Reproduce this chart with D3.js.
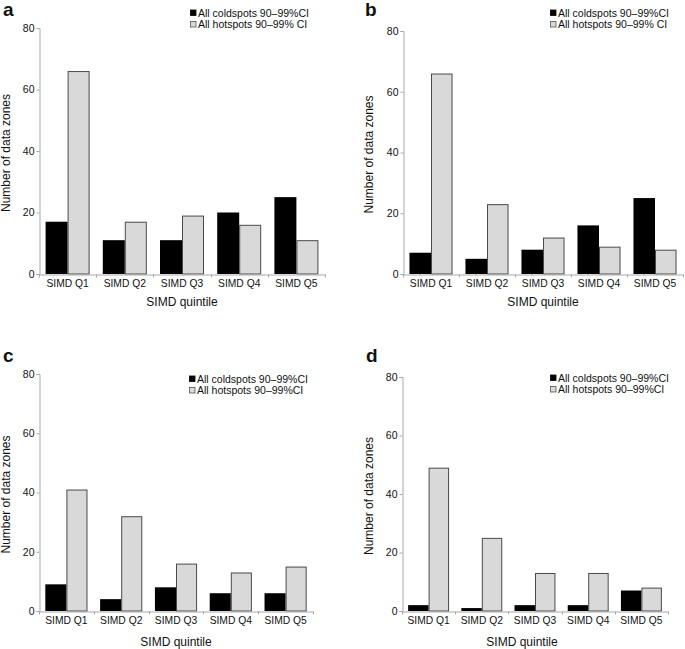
<!DOCTYPE html>
<html>
<head>
<meta charset="utf-8">
<script src="https://cdn.jsdelivr.net/npm/d3@7"></script>
<style>
  body { margin: 0; background: #fff; }
  svg text { font-family: "Liberation Sans", Arial, Helvetica, sans-serif; fill: #111; }
</style>
</head>
<body>
<svg id="chart" width="685" height="649"></svg>
<script>
/* Data: counts of data zones per SIMD quintile */

var categories = ["SIMD Q1", "SIMD Q2", "SIMD Q3", "SIMD Q4", "SIMD Q5"];
var yTicks = [0, 20, 40, 60, 80];

var coldA = [17, 11, 11, 20, 25];
var hotA  = [66, 17, 19, 16, 11];
var coldB = [7, 5, 8, 16, 25];
var hotB  = [66, 23, 12, 9, 8];
var coldC = [9, 4, 8, 6, 6];
var hotC  = [41, 32, 16, 13, 15];
var coldD = [2, 1, 2, 2, 7];
var hotD  = [49, 25, 13, 13, 8];

var coldLabel = "All coldspots 90\u201399%CI";
var hotLabelSpaced = "All hotspots 90\u201399% CI";
var hotLabel = "All hotspots 90\u201399%CI";

// Panel boxes (plot area in page pixels) and where the extras go.
var panels = [
	{ letter: "a", cold: coldA, hot: hotA, hotText: hotLabelSpaced,
		left: 39, right: 325, top: 28, bottom: 274,
		letterX: 3, letterY: 16, legendX: 190, legendY: 13, titleX: 182, titleY: 306, yTitleX: 10 },
	{ letter: "b", cold: coldB, hot: hotB, hotText: hotLabelSpaced,
		left: 403, right: 683, top: 31, bottom: 274,
		letterX: 365, letterY: 16, legendX: 550, legendY: 13, titleX: 543, titleY: 306, yTitleX: 373 },
	{ letter: "c", cold: coldC, hot: hotC, hotText: hotLabel,
		left: 39, right: 313, top: 374, bottom: 611,
		letterX: 3, letterY: 362, legendX: 189, legendY: 379, titleX: 176, titleY: 646, yTitleX: 10 },
	{ letter: "d", cold: coldD, hot: hotD, hotText: hotLabel,
		left: 402, right: 668, top: 377, bottom: 611,
		letterX: 366, letterY: 362, legendX: 550, legendY: 378, titleX: 522, titleY: 646, yTitleX: 373 }
];

var axisGrey = "#a8a8a8";
var hotFill = "#d9d9d9";
var hotStroke = "#4a4a4a";

var svg = d3.select("#chart");

function drawPanel(p) {
	var g = svg.append("g");

	var x0 = d3.scaleBand().domain(categories).range([p.left, p.right]);
	var x1 = d3.scaleBand().domain(["cold", "hot"])
		.range([0, x0.bandwidth()]).paddingOuter(0.3);
	var y = d3.scaleLinear().domain([0, 80]).range([p.bottom, p.top]);

	// Bars: black coldspots first, then grey hotspots.
	var groups = g.selectAll("g.cat").data(categories).enter().append("g")
		.attr("transform", function (c) { return "translate(" + x0(c) + ",0)"; });

	groups.append("rect")
		.attr("x", x1("cold"))
		.attr("y", function (c, i) { return y(p.cold[i]); })
		.attr("width", x1.bandwidth())
		.attr("height", function (c, i) { return y(0) - y(p.cold[i]); })
		.attr("fill", "#000");

	groups.append("rect")
		.attr("x", x1("hot") + 0.5)
		.attr("y", function (c, i) { return y(p.hot[i]) + 0.5; })
		.attr("width", x1.bandwidth() - 1)
		.attr("height", function (c, i) { return y(0) - y(p.hot[i]) - 0.5; })
		.attr("fill", hotFill)
		.attr("stroke", hotStroke)
		.attr("stroke-width", 1);

	// Y axis
	var yAxis = g.append("g")
		.attr("transform", "translate(" + (p.left + 0.5) + ",0)")
		.call(d3.axisLeft(y).tickValues(yTicks).tickSize(3).tickPadding(2));
	yAxis.select(".domain").attr("stroke", axisGrey);
	yAxis.selectAll(".tick line").attr("stroke", axisGrey);
	yAxis.selectAll(".tick text").attr("font-size", 10.5)
		.attr("font-family", "Liberation Sans, Arial, sans-serif").attr("fill", "#222");

	// X axis: line with small ticks between categories, labels centred.
	var xAxis = g.append("g")
		.attr("transform", "translate(0," + (p.bottom + 0.5) + ")")
		.call(d3.axisBottom(x0).tickSize(0).tickPadding(5).tickSizeOuter(0));
	xAxis.select(".domain").attr("stroke", axisGrey);
	xAxis.selectAll(".tick text").attr("font-size", 10.3)
		.attr("font-family", "Liberation Sans, Arial, sans-serif").attr("fill", "#222");
	var bounds = categories.map(function (c) { return x0(c); }).concat([p.right]);
	xAxis.selectAll("line.sep").data(bounds).enter().append("line")
		.attr("x1", function (d) { return Math.round(d) + 0.5; })
		.attr("x2", function (d) { return Math.round(d) + 0.5; })
		.attr("y1", 0).attr("y2", 3)
		.attr("stroke", axisGrey);

	// Axis titles
	g.append("text")
		.attr("x", p.titleX).attr("y", p.titleY)
		.attr("text-anchor", "middle").attr("font-size", 12)
		.text("SIMD quintile");

	g.append("text")
		.attr("transform", "translate(" + p.yTitleX + "," + ((p.top + p.bottom) / 2 + 2) + ") rotate(-90)")
		.attr("text-anchor", "middle").attr("font-size", 12)
		.text("Number of data zones");

	// Panel letter
	g.append("text")
		.attr("x", p.letterX).attr("y", p.letterY)
		.attr("font-size", 19).attr("font-weight", "bold").attr("fill", "#000")
		.text(p.letter);

	// Legend
	var legendItems = [
		{ text: coldLabel, fill: "#000", stroke: "#000" },
		{ text: p.hotText, fill: hotFill, stroke: "#555" }
	];
	var lg = g.append("g").selectAll("g").data(legendItems).enter().append("g")
		.attr("transform", function (d, i) {
			return "translate(" + p.legendX + "," + (p.legendY + i * 11.5) + ")";
		});
	lg.append("rect")
		.attr("x", 0.5).attr("y", -3).attr("width", 5.5).attr("height", 5.5)
		.attr("fill", function (d) { return d.fill; })
		.attr("stroke", function (d) { return d.stroke; })
		.attr("stroke-width", 0.8);
	lg.append("text")
		.attr("x", 8).attr("y", 3.5)
		.attr("font-size", 10.5).attr("fill", "#222")
		.text(function (d) { return d.text; });
}

panels.forEach(drawPanel);
</script>
</body>
</html>
